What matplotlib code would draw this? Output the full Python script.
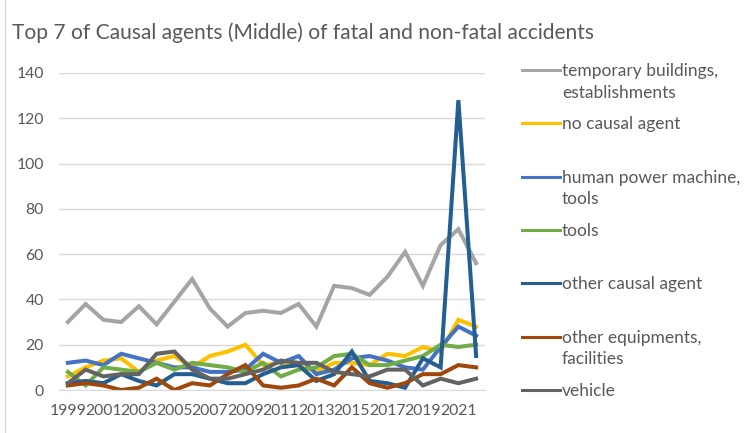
import numpy as np
import matplotlib
matplotlib.use('Agg')
import matplotlib.pyplot as plt
from matplotlib.lines import Line2D

plt.rcParams['font.family'] = ['Lato', 'DejaVu Sans']

# data
years = list(range(1999, 2023))
temp_buildings = [30, 38, 31, 30, 37, 29, 39, 49, 36, 28, 34, 35, 34, 38, 28, 46, 45, 42, 50, 61, 46, 64, 71, 56]
no_agent = [6, 10, 13, 14, 8, 13, 15, 10, 15, 17, 20, 11, 12, 11, 8, 12, 12, 11, 16, 15, 19, 17, 31, 28]
human_power = [12, 13, 11, 16, 14, 12, 10, 10, 8, 8, 9, 16, 12, 15, 7, 9, 14, 15, 13, 10, 9, 19, 28, 24]
tools = [8, 2, 10, 9, 8, 12, 9, 12, 11, 10, 8, 12, 6, 9, 10, 15, 16, 11, 11, 13, 15, 20, 19, 20]
other_agent = [3, 4, 3, 7, 4, 2, 7, 7, 5, 3, 3, 7, 10, 11, 4, 7, 17, 4, 3, 1, 14, 10, 128, 15]
other_equip = [2, 3, 2, 0, 1, 5, 0, 3, 2, 7, 11, 2, 1, 2, 5, 2, 10, 3, 1, 3, 7, 7, 11, 10]
vehicle = [3, 9, 6, 7, 7, 16, 17, 9, 5, 5, 7, 9, 13, 12, 12, 8, 7, 6, 9, 9, 2, 5, 3, 5]

labels = ['temporary buildings,\nestablishments', 'no causal agent', 'human power machine,\ntools',
          'tools', 'other causal agent', 'other equipments,\nfacilities', 'vehicle']
series = [temp_buildings, no_agent, human_power, tools, other_agent, other_equip, vehicle]
colors = ['#A5A5A5', '#FFC000', '#4472C4', '#70AD47', '#255E91', '#9E480E', '#636363']

txt = '#595959'
W, H = 755, 433
fig = plt.figure(figsize=(W / 100, H / 100), dpi=100)
ax = fig.add_axes([59 / W, 1 - 390 / H, (485 - 59) / W, (390 - 73) / H])

for vals, c in zip(series, colors):
    ax.plot(years, vals, color=c, lw=2.9, solid_joinstyle='miter')

ax.set_xlim(years[0] - 0.5, years[-1] + 0.5)
ax.set_ylim(0, 140)
ax.set_yticks(range(0, 141, 20))
ax.set_xticks(years[::2])
ax.set_xticklabels([str(y) for y in years[::2]])
ax.grid(axis='y', color='#D9D9D9', lw=1)
ax.set_axisbelow(True)
for s in ['top', 'right', 'left']:
    ax.spines[s].set_visible(False)
ax.spines['bottom'].set_color('#D9D9D9')
ax.tick_params(length=0, colors=txt, labelsize=11.3)
ax.tick_params(axis='y', pad=11)
ax.tick_params(axis='x', pad=10)

fig.text(12 / W, 1 - 33 / H, 'Top 7 of Causal agents (Middle) of fatal and non-fatal accidents',
         color=txt, fontsize=15.1, va='center', ha='left')

# legend, laid out like the Excel one
step = 53.3
for i, (lab, c) in enumerate(zip(labels, colors)):
    py = 70 + i * step
    fy = 1 - py / H
    fig.add_artist(Line2D([522 / W, 560 / W], [fy, fy], transform=fig.transFigure, color=c, lw=2.2))
    for k, part in enumerate(lab.split('\n')):
        fig.text(562 / W, 1 - (py + 6 + k * 21.5) / H, part, color=txt, fontsize=12.5,
                 va='baseline', ha='left')

# chart border on the left
fig.add_artist(Line2D([5 / W, 5 / W], [0, 1], transform=fig.transFigure, color='#D9D9D9', lw=1))

fig.savefig('out.png', dpi=100)
